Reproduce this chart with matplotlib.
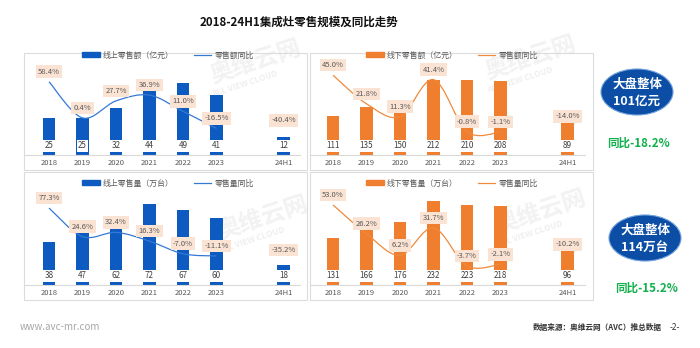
import matplotlib
matplotlib.use("Agg")
import matplotlib.pyplot as plt
import numpy as np
from matplotlib.patches import Ellipse, Rectangle, PathPatch
from matplotlib.path import Path
from matplotlib.lines import Line2D

plt.rcParams["font.family"] = ["Noto Sans CJK SC", "DejaVu Sans"]

# ---- data ----
years = ["2018", "2019", "2020", "2021", "2022", "2023", "24H1"]

online_amount = [25, 25, 32, 44, 49, 41, 12]
online_amount_yoy = [58.4, 0.4, 27.7, 36.9, 11.0, -16.5, -40.4]
offline_amount = [111, 135, 150, 212, 210, 208, 89]
offline_amount_yoy = [45.0, 21.8, 11.3, 41.4, -0.8, -1.1, -14.0]

online_volume = [38, 47, 62, 72, 67, 60, 18]
online_volume_yoy = [77.3, 24.6, 32.4, 16.3, -7.0, -11.1, -35.2]
offline_volume = [131, 166, 176, 232, 223, 218, 96]
offline_volume_yoy = [53.0, 26.2, 6.2, 31.7, -3.7, -2.1, -10.2]

total_amount = "101亿元"
total_amount_yoy = "同比-18.2%"
total_volume = "114万台"
total_volume_yoy = "同比-15.2%"

BLUE = "#0d5bc0"
BLUE_LINE = "#3479d6"
ORANGE = "#ef7e2f"
ORANGE_LINE = "#f08a3c"
PEACH = "#fbe3d3"
GREEN = "#12b04c"

W, H = 700, 348


def fx(px):
    return px / W


def fy(py):
    return 1 - py / H


def smooth_path(xs, ys):
    """Excel 风格的平滑折线 (三次 Bezier)."""
    pts = np.column_stack([xs, ys]).astype(float)
    n = len(pts)
    verts = [pts[0]]
    codes = [Path.MOVETO]
    for i in range(n - 1):
        p0 = pts[max(i - 1, 0)]
        p1 = pts[i]
        p2 = pts[i + 1]
        p3 = pts[min(i + 2, n - 1)]
        c1 = p1 + (p2 - p0) / 6
        c2 = p2 - (p3 - p1) / 6
        verts += [c1, c2, p2]
        codes += [Path.CURVE4] * 3
    return Path(verts, codes)


fig = plt.figure(figsize=(7.0, 3.48), dpi=100)

# panel boxes
for x0, x1, y0, y1 in [(24, 307, 53, 170), (310, 593, 53, 170),
                       (24, 307, 172, 300), (310, 593, 172, 300)]:
    fig.add_artist(Rectangle((fx(x0), fy(y1)), fx(x1) - fx(x0), fy(y0) - fy(y1),
                             transform=fig.transFigure, fill=False,
                             ec="#dcdcdc", lw=0.8))

# watermarks
for wx, wy in [(255, 62), (530, 58), (262, 218), (540, 212)]:
    fig.text(fx(wx), fy(wy), "奥维云网", fontsize=17, color="#f2f2f2",
             rotation=18, ha="center", va="center", fontweight="bold", zorder=-1)
    fig.text(fx(wx - 10), fy(wy + 22), "ALL VIEW CLOUD", fontsize=6, color="#efefef",
             rotation=18, ha="center", va="center", fontweight="bold", zorder=-1)

x = np.array([0, 1, 2, 3, 4, 5, 7])

panels = [
    # bars, yoy, colour, line colour, legend names, axes rect px, bar top, line lims, 24H1 offset px
    (online_amount, online_amount_yoy, BLUE, BLUE_LINE,
     ("线上零售额（亿元）", "零售额同比"), (25, 300, 62, 155), 63.3, (-59, 90), 17, 168, 55),
    (offline_amount, offline_amount_yoy, ORANGE, ORANGE_LINE,
     ("线下零售额（亿元）", "零售额同比"), (310, 585, 62, 155), 262, (-19.7, 55.7), 7, 452, 55),
    (online_volume, online_volume_yoy, BLUE, BLUE_LINE,
     ("线上零售量（万台）", "零售量同比"), (25, 300, 192, 285), 83, (-64.5, 106.8), 15, 168, 183),
    (offline_volume, offline_volume_yoy, ORANGE, ORANGE_LINE,
     ("线下零售量（万台）", "零售量同比"), (310, 585, 192, 285), 258, (-21.4, 65), 6, 452, 183),
]

for bars, yoy, color, lcolor, names, rect, btop, llim, off24, lgx, lgy in panels:
    l, r, t, b = rect
    ax = fig.add_axes([fx(l), fy(b), fx(r) - fx(l), fy(t) - fy(b)])
    ax.set_facecolor("none")
    first = 49 if l < 100 else 333
    ax.set_xlim((l - first) / 33.5, (r - first) / 33.5)
    ax.set_ylim(0, btop)
    ax.bar(x, bars, width=0.36, color=color, zorder=2)
    for s in ["top", "left", "right"]:
        ax.spines[s].set_visible(False)
    ax.spines["bottom"].set_color("#d9d9d9")
    ax.spines["bottom"].set_linewidth(0.8)
    ax.set_yticks([])
    ax.set_xticks(x, years)
    ax.tick_params(axis="x", length=0, pad=3, labelsize=5.5, labelcolor="#595959")

    for xi, v in zip(x, bars):
        ax.annotate(f"{v}", (xi, 0), xytext=(0, 6.5), textcoords="offset points",
                    ha="center", va="center", fontsize=5.8, color="#404040", zorder=6,
                    bbox=dict(boxstyle="square,pad=0.2", fc="white", ec="none"))

    ax2 = ax.twinx()
    ax2.set_ylim(*llim)
    ax2.axis("off")
    ax2.add_patch(PathPatch(smooth_path(x[:6], yoy[:6]), fill=False,
                            ec=lcolor, lw=0.9, zorder=3))
    for xi, v in zip(x[:6], yoy[:6]):
        ax2.annotate(f"{v:.1f}%", (xi, v), xytext=(0, 7.2), textcoords="offset points",
                     ha="center", va="center", fontsize=5.5, color="#595959", zorder=5,
                     bbox=dict(boxstyle="square,pad=0.3", fc=PEACH, ec="none"))
    ax.annotate(f"{yoy[6]:.1f}%", (x[6], bars[6]), xytext=(0, off24 * 0.72),
                textcoords="offset points", ha="center", va="center", fontsize=5.5,
                color="#595959", zorder=5,
                bbox=dict(boxstyle="square,pad=0.3", fc=PEACH, ec="none"))

    handles = [Rectangle((0, 0), 1, 1, color=color),
               Line2D([0], [0], color=lcolor, lw=0.9)]
    fig.legend(handles, names, loc="center", bbox_to_anchor=(fx(lgx), fy(lgy)),
               bbox_transform=fig.transFigure, ncol=2, frameon=False, fontsize=5.7,
               handlelength=2.2, handleheight=0.5, columnspacing=2.5, handletextpad=0.4,
               labelcolor="#595959")

# title
fig.text(fx(299), fy(22), "2018-24H1集成灶零售规模及同比走势", fontsize=8.3,
         fontweight="bold", ha="center", va="center", color="#111111")

# right side summary
for cx, cy, line2, ytxt, yy in [(637, 92, total_amount, total_amount_yoy, 143),
                                (645, 238, total_volume, total_volume_yoy, 288)]:
    fig.add_artist(Ellipse((fx(cx), fy(cy)), fx(72), 46 / H, transform=fig.transFigure,
                           fc="#0c4ea6", ec="#6fa0dc", lw=0.8))
    fig.text(fx(cx), fy(cy - 8), "大盘整体", fontsize=9, fontweight="bold",
             color="white", ha="center", va="center")
    fig.text(fx(cx), fy(cy + 9), line2, fontsize=9, fontweight="bold",
             color="white", ha="center", va="center")
    fig.text(fx(cx + 2), fy(yy), ytxt, fontsize=8.3, fontweight="bold",
             color=GREEN, ha="center", va="center")

# footer
fig.text(fx(20), fy(327), "www.avc-mr.com", fontsize=7, color="#a6a6a6",
         ha="left", va="center")
fig.text(fx(662), fy(327), "数据来源：奥维云网（AVC）推总数据", fontsize=5.5,
         fontweight="bold", color="#333333", ha="right", va="center")
fig.text(fx(675), fy(327), "-2-", fontsize=6, color="#333333", ha="center", va="center")

fig.savefig("out.png", dpi=100)
